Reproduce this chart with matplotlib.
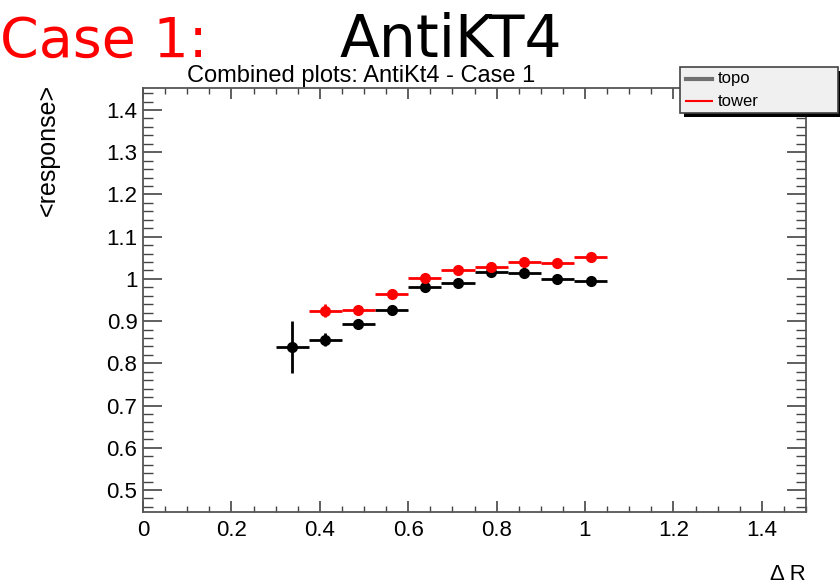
import numpy as np
import matplotlib
matplotlib.use("Agg")
import matplotlib.pyplot as plt
from matplotlib.patches import Rectangle
from matplotlib.lines import Line2D
from matplotlib.ticker import MultipleLocator

# datos (bins de DeltaR)
bin_half = 0.0375

topo_x = [0.3375, 0.4125, 0.4875, 0.5625, 0.6375, 0.7125, 0.7875, 0.8625, 0.9375, 1.0125]
topo_y = [0.839, 0.856, 0.894, 0.927, 0.980, 0.991, 1.016, 1.013, 1.000, 0.994]
topo_err = [0.062, 0.015, 0.008, 0.008, 0.007, 0.006, 0.006, 0.006, 0.006, 0.006]

tower_x = [0.4125, 0.4875, 0.5625, 0.6375, 0.7125, 0.7875, 0.8625, 0.9375, 1.0125]
tower_y = [0.925, 0.927, 0.965, 1.002, 1.020, 1.029, 1.041, 1.038, 1.051]
tower_err = [0.016, 0.008, 0.008, 0.007, 0.006, 0.006, 0.006, 0.006, 0.006]

x_ticks = [0, 0.2, 0.4, 0.6, 0.8, 1, 1.2, 1.4]
x_labels = ["0", "0.2", "0.4", "0.6", "0.8", "1", "1.2", "1.4"]
y_ticks = [0.5, 0.6, 0.7, 0.8, 0.9, 1.0, 1.1, 1.2, 1.3, 1.4]
y_labels = ["0.5", "0.6", "0.7", "0.8", "0.9", "1", "1.1", "1.2", "1.3", "1.4"]

fuente = ["Liberation Sans", "DejaVu Sans"]

W, H = 840, 585
fig = plt.figure(figsize=(W / 100, H / 100), dpi=100)

def fx(px):
    return px / W

def fy(py):
    return 1 - py / H

ax = fig.add_axes([fx(143), fy(512), fx(806) - fx(143), fy(88) - fy(512)])

ax.errorbar(topo_x, topo_y, xerr=bin_half, yerr=topo_err, fmt="o", color="black",
            markersize=7, elinewidth=2, capsize=0)
ax.errorbar(tower_x, tower_y, xerr=bin_half, yerr=tower_err, fmt="o", color="red",
            markersize=7, elinewidth=2, capsize=0)

ax.set_xlim(0, 1.5)
ax.set_ylim(0.448, 1.452)
ax.set_xticks(x_ticks)
ax.set_xticklabels(x_labels, family=fuente, fontsize=16)
ax.set_yticks(y_ticks)
ax.set_yticklabels(y_labels, family=fuente, fontsize=16)
ax.xaxis.set_minor_locator(MultipleLocator(0.05))
ax.yaxis.set_minor_locator(MultipleLocator(0.02))
ax.tick_params(which="both", direction="in", top=True, right=True, color="#444444")
ax.tick_params(axis="x", which="major", length=8, width=1.2, pad=6)
ax.tick_params(axis="x", which="minor", length=4.5, width=1)
ax.tick_params(axis="y", which="major", length=14, width=1.2, pad=4)
ax.tick_params(axis="y", which="minor", length=7, width=1)
for s in ax.spines.values():
    s.set_color("#555555")
    s.set_linewidth(1.3)

# titulos
fig.text(fx(0), fy(57), "Case 1:", color="red", fontsize=40,
         family=["Liberation Sans Narrow", "DejaVu Sans"], va="baseline")
fig.text(fx(340), fy(57), "AntiKT4", color="black", fontsize=42,
         family=["Liberation Sans Narrow", "DejaVu Sans"], va="baseline")
fig.text(fx(361), fy(82), "Combined plots: AntiKt4 - Case 1", ha="center", va="baseline",
         fontsize=17, family=fuente)
fig.text(fx(48), fy(84), "<response>", rotation=90, ha="center", va="top",
         fontsize=18, family=fuente)
fig.text(fx(806), fy(580), "\u0394 R", ha="right", va="baseline", fontsize=16, family=fuente)

# leyenda estilo ROOT con sombra
fig.patches.append(Rectangle((fx(684), fy(117)), fx(158), fy(67) - fy(113),
                             transform=fig.transFigure, facecolor="black", edgecolor="none"))
fig.patches.append(Rectangle((fx(680), fy(113)), fx(158), fy(67) - fy(113),
                             transform=fig.transFigure, facecolor="#f0f0f0", edgecolor="#444444",
                             linewidth=1.2))
fig.lines.append(Line2D([fx(686), fx(712)], [fy(79), fy(79)], transform=fig.transFigure,
                        color="#707070", linewidth=3))
fig.lines.append(Line2D([fx(686), fx(712)], [fy(101), fy(101)], transform=fig.transFigure,
                        color="red", linewidth=1.5))
fig.text(fx(718), fy(79), "topo", va="center", fontsize=12, family=fuente)
fig.text(fx(718), fy(101), "tower", va="center", fontsize=12, family=fuente)

fig.savefig("out.png", dpi=100)
